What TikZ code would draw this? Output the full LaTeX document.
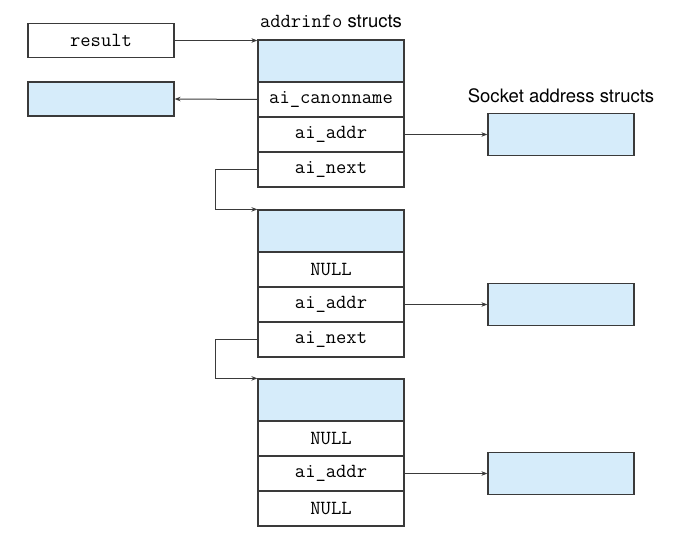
\documentclass[tikz,border=0pt]{standalone}
\usepackage{fontspec}
\newfontfamily\hvfont{TeX Gyre Heros}
\usetikzlibrary{arrows.meta}
\definecolor{cellblue}{HTML}{D6ECFA}
\definecolor{linegray}{HTML}{3A3A3A}
\begin{document}
\begin{tikzpicture}[x=1pt,y=-1pt,
  cell/.style={draw=linegray, line width=1.2pt, minimum width=146pt, minimum height=35pt, inner sep=0pt,
    font=\ttfamily\fontsize{20}{21}\selectfont},
  headcell/.style={cell, fill=cellblue, minimum height=42pt},
  sockbox/.style={cell, fill=cellblue, minimum height=42pt},
  arr/.style={draw=linegray, line width=1pt, -{Stealth[length=6pt,width=4.5pt]}},
  lbl/.style={inner sep=0pt, font=\hvfont\fontsize{18.5}{20}\selectfont}]
\useasboundingbox (0,0) rectangle (681,553);
% left boxes
\node[cell, minimum height=34pt] (result) at (101,40.5) {result};
\node[cell, fill=cellblue, minimum height=34pt] (canon) at (101,99) {};
% struct 1
\node[lbl] (t1) at (331,21) {{\ttfamily\fontsize{20}{21}\selectfont addrinfo} structs};
\node[headcell] (h1) at (331,61) {};
\node[cell] (c1) at (331,99.5) {ai\_canonname};
\node[cell] (a1) at (331,134.5) {ai\_addr};
\node[cell] (n1) at (331,169.5) {ai\_next};
% struct 2
\node[headcell] (h2) at (331,231) {};
\node[cell] (c2) at (331,269.5) {NULL};
\node[cell] (a2) at (331,304.5) {ai\_addr};
\node[cell] (n2) at (331,339.5) {ai\_next};
% struct 3
\node[headcell] (h3) at (331,400) {};
\node[cell] (c3) at (331,438.5) {NULL};
\node[cell] (a3) at (331,473.5) {ai\_addr};
\node[cell] (n3) at (331,508.5) {NULL};
% socket address structs
\node[lbl] (t2) at (561,96) {Socket address structs};
\node[sockbox] (s1) at (561,134.5) {};
\node[sockbox] (s2) at (561,304.5) {};
\node[sockbox] (s3) at (561,473.5) {};
% connectors
\draw[arr] (result.east) -- (result.east -| h1.west);
\draw[arr] (c1.west) -- (canon.east);
\draw[arr] (a1.east) -- (s1.west);
\draw[arr] (a2.east) -- (s2.west);
\draw[arr] (a3.east) -- (s3.west);
\draw[arr] (n1.west) -- ++(-42,0) |- (h2.north west);
\draw[arr] (n2.west) -- ++(-42,0) |- (h3.north west);
\end{tikzpicture}
\end{document}
